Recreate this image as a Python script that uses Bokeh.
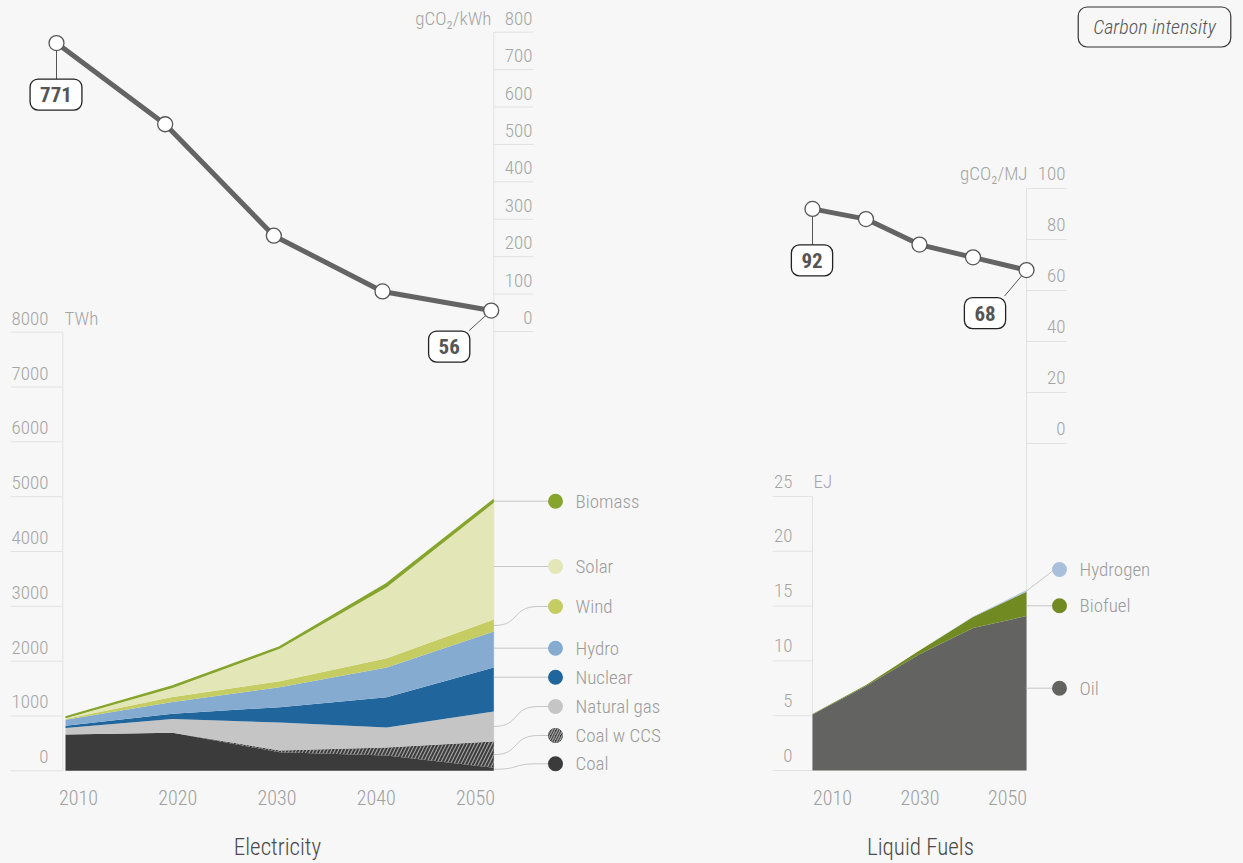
import numpy as np
from bokeh.plotting import figure
from bokeh.models import Range1d, Label
from bokeh.core.properties import value
from bokeh.embed import file_html
from bokeh.resources import INLINE

# ---------------- data ----------------
years = [2010, 2020, 2030, 2040, 2050]
elec_intensity = [771, 554, 256, 107, 56]      # gCO2/kWh
fuel_intensity = [92, 88, 78, 73, 68]          # gCO2/MJ

elec_names = ["Coal", "Coal w CCS", "Natural gas", "Nuclear", "Hydro", "Wind", "Solar", "Biomass"]
coal = [662, 693, 340, 280, 55]
coal_ccs = [0, 0, 30, 146, 480]
natural_gas = [120, 250, 511, 364, 547]
nuclear = [40, 98, 280, 553, 802]
hydro = [108, 212, 365, 541, 657]
wind = [15, 91, 109, 171, 219]
solar = [14, 165, 590, 1295, 2128]
biomass = [20, 36, 30, 60, 54]

fuel_names = ["Oil", "Biofuel", "Hydrogen"]
oil = [5.1, 7.7, 10.6, 13.0, 14.1]
biofuel = [0.05, 0.1, 0.35, 1.0, 2.2]
hydrogen = [0, 0, 0, 0.05, 0.15]

elec_ticks = [0, 1000, 2000, 3000, 4000, 5000, 6000, 7000, 8000]
elec_ci_ticks = [0, 100, 200, 300, 400, 500, 600, 700, 800]
fuel_ticks = [0, 5, 10, 15, 20, 25]
fuel_ci_ticks = [0, 20, 40, 60, 80, 100]
elec_year_labels = [2010, 2020, 2030, 2040, 2050]
fuel_year_labels = [2010, 2030, 2050]

# ---------------- styles ----------------
BG = "#f7f7f7"
FONT = "Roboto Condensed, Roboto, sans-serif"
FONT_L = "Roboto Condensed Light, Roboto Condensed, Roboto, sans-serif"
TICK_C = "#a5a5a5"
GRID_C = "#e2e2e2"
CONN_C = "#c6c6c6"
elec_colors = ["#3b3b3b", "#3b3b3b", "#c5c5c5", "#20669c", "#85abd0", "#c4cc62", "#e3e6b7", "#86a52d"]
fuel_colors = ["#636361", "#718a22", "#a9c0dc"]

W, H, M = 1243, 863, 0

p = figure(width=W, height=H, x_range=Range1d(M, M + W), y_range=Range1d(M + H, M),
           x_axis_type=None, y_axis_type=None, toolbar_location=None,
           output_backend="svg", min_border=0, outline_line_color=None,
           background_fill_color=BG, border_fill_color=BG)


def x_map(v0, p0, v1, p1):
    s = (p1 - p0) / (v1 - v0)
    start = v0 - (p0 - M) / s
    return Range1d(start, start + W / s), (lambda v: p0 + (np.asarray(v, float) - v0) * s)


def y_map(v0, p0, v1, p1):
    s = (p0 - p1) / (v1 - v0)
    start = v0 - (M + H - p0) / s
    return Range1d(start, start + H / s), (lambda v: p0 - (np.asarray(v, float) - v0) * s)


ex_r, ex = x_map(2010, 65, 2050, 493.3)
ey_r, ey = y_map(0, 770.3, 8000, 331.7)
et_r, et = x_map(2010, 56, 2050, 490.7)
ec_r, ec = y_map(0, 331, 800, 31.7)
fx_r, fx = x_map(2010, 812, 2050, 1026)
fy_r, fy = y_map(0, 770, 25, 496)
fc_r, fc = y_map(0, 443, 100, 188)
exl = x_map(2010, 78, 2050, 475)[1]
fxl = x_map(2010, 832, 2050, 1007)[1]

p.extra_x_ranges = {"ex": ex_r, "et": et_r, "fx": fx_r}
p.extra_y_ranges = {"ey": ey_r, "ec": ec_r, "fy": fy_r, "fc": fc_r}


def txt(xs, ys, texts, size="19px", color=TICK_C, align="left", style="normal", font=FONT_L):
    p.text(x=list(np.atleast_1d(xs)), y=list(np.atleast_1d(ys)), text=list(texts),
           text_font=value(font), text_font_size=size, text_color=color,
           text_align=align, text_baseline="middle", text_font_style=style)


# ---------------- axis lines & tick marks ----------------
xl_e = float(ex(2010)) - 2.7
p.segment(x0=[xl_e, float(ex(2050)), float(fx(2010)), float(fx(2050))],
          y0=[float(ey(8000)), float(ec(800)), float(fy(25)), float(fc(100))],
          x1=[xl_e, float(ex(2050)), float(fx(2010)), float(fx(2050))],
          y1=[float(ey(0)), float(ey(0)), float(fy(0)), float(fy(0))],
          line_color=GRID_C, line_width=1)

for ticks, fy_map, xa, xb, lab_x, off in [
        (elec_ticks, ey, 10, xl_e, 48, 14),
        (elec_ci_ticks, ec, float(ex(2050)), 533, 532, 14),
        (fuel_ticks, fy, 772, float(fx(2010)), 792, 15.5),
        (fuel_ci_ticks, fc, float(fx(2050)), 1066, 1065, 15.5)]:
    ys = fy_map(ticks)
    p.segment(x0=[xa] * len(ticks), x1=[xb] * len(ticks), y0=list(ys), y1=list(ys),
              line_color=GRID_C, line_width=1)
    txt([lab_x] * len(ticks), list(ys - off), [str(t) for t in ticks], align="right")

txt([64], [float(ey(8000)) - 14], ["TWh"])
txt([491], [float(ec(800)) - 14], ["gCO\u2082/kWh"], align="right")
txt([813], [float(fy(25)) - 15.5], ["EJ"])
txt([1027], [float(fc(100)) - 15.5], ["gCO\u2082/MJ"], align="right")

# ---------------- stacked areas ----------------
elec_vals = [coal, coal_ccs, natural_gas, nuclear, hydro, wind, solar, biomass]
bottom = np.zeros(len(years))
elec_bands = []
for name, vals, col in zip(elec_names, elec_vals, elec_colors):
    top = bottom + np.array(vals, float)
    kw = {}
    if name == "Coal w CCS":
        kw = dict(hatch_pattern="/", hatch_color="#a0a0a0", hatch_weight=1.2, hatch_scale=7)
    p.varea(x=years, y1=list(bottom), y2=list(top), fill_color=col,
            x_range_name="ex", y_range_name="ey", **kw)
    elec_bands.append((bottom[-1], top[-1]))
    bottom = top
p.line(years, list(bottom), line_color=elec_colors[-1], line_width=2,
       x_range_name="ex", y_range_name="ey")

fuel_vals = [oil, biofuel, hydrogen]
bottom = np.zeros(len(years))
fuel_bands = []
for name, vals, col in zip(fuel_names, fuel_vals, fuel_colors):
    top = bottom + np.array(vals, float)
    p.varea(x=years, y1=list(bottom), y2=list(top), fill_color=col,
            x_range_name="fx", y_range_name="fy")
    fuel_bands.append((bottom[-1], top[-1]))
    bottom = top

# ---------------- legends ----------------
elec_leg_y = [763.3, 735, 706, 676.7, 647.7, 606, 566, 500.7]
fuel_leg_y = [687.7, 605.3, 569]


def legend(names, colors, bands, leg_y, ymap, x_edge, dot_x, curved):
    for i, (name, col, (b, t), dy) in enumerate(zip(names, colors, bands, leg_y)):
        yb, yt = float(ymap(b)), float(ymap(t))
        if min(yb, yt) - 0.5 <= dy <= max(yb, yt) + 0.5:
            p.segment(x0=[x_edge], y0=[dy], x1=[dot_x], y1=[dy], line_color=CONN_C, line_width=1)
        else:
            mid = (yb + yt) / 2
            if curved:
                p.bezier(x0=[x_edge], y0=[mid], x1=[x_edge + 45], y1=[dy],
                         cx0=[x_edge + 27], cy0=[mid], cx1=[x_edge + 17], cy1=[dy],
                         line_color=CONN_C, line_width=1)
                p.segment(x0=[x_edge + 45], y0=[dy], x1=[dot_x], y1=[dy], line_color=CONN_C, line_width=1)
            else:
                p.segment(x0=[x_edge], y0=[mid], x1=[dot_x - 5], y1=[dy], line_color=CONN_C, line_width=1)
        kw = {}
        if name == "Coal w CCS":
            kw = dict(hatch_pattern="/", hatch_color="#a0a0a0", hatch_weight=1.3, hatch_scale=5)
        p.scatter(x=[dot_x], y=[dy], size=15, marker="circle", fill_color=col, line_color=None, **kw)
        txt([dot_x + 20], [dy], [name], color="#9b9b9b")


legend(elec_names, elec_colors, elec_bands, elec_leg_y, ey, float(ex(2050)), 555, True)
legend(fuel_names, fuel_colors, fuel_bands, fuel_leg_y, fy, float(fx(2050)), 1059, False)

# ---------------- carbon intensity lines ----------------
for xs_name, ys_name, xmap, ymap, vals in [("et", "ec", et, ec, elec_intensity),
                                           ("fx", "fc", fx, fc, fuel_intensity)]:
    x0, y0 = float(xmap(years[0])), float(ymap(vals[0]))
    x1, y1 = float(xmap(years[-1])), float(ymap(vals[-1]))
    p.segment(x0=[x0, x1], y0=[y0, y1], x1=[x0, x1 - 22], y1=[y0 + 36, y1 + (26 if xs_name == "fx" else 20)],
              line_color="#555555", line_width=1)
    p.line(years, vals, x_range_name=xs_name, y_range_name=ys_name, line_color="#646464", line_width=5)
    p.scatter(years, vals, x_range_name=xs_name, y_range_name=ys_name, size=15, marker="circle",
              fill_color="white", line_color="#555555", line_width=1.3)
    first_dy = 51.5
    last_dx, last_dy = (-42, 36) if xs_name == "et" else (-41.5, 43)
    for (lx, ly, v) in [(x0 - 0.5, y0 + first_dy, vals[0]), (x1 + last_dx, y1 + last_dy, vals[-1])]:
        p.add_layout(Label(x=lx, y=ly, text=str(v), text_font=FONT, text_font_size="21px",
                           text_font_style="bold", text_color="#555555", text_align="center",
                           text_baseline="middle", background_fill_color="white",
                           border_line_color="#222222", border_line_width=1.3,
                           border_radius=8, padding=(10, 8)))

# ---------------- titles ----------------
txt(list(exl(elec_year_labels)), [797] * len(elec_year_labels), [str(y) for y in elec_year_labels],
    size="20px", color="#a0a0a0", align="center")
txt(list(fxl(fuel_year_labels)), [797] * len(fuel_year_labels), [str(y) for y in fuel_year_labels],
    size="20px", color="#a0a0a0", align="center")
txt([277], [847], ["Electricity"], size="23px", color="#4a4a4a", align="center")
txt([920], [847], ["Liquid Fuels"], size="23px", color="#4a4a4a", align="center")

p.add_layout(Label(x=1154, y=26.5, text="Carbon intensity", text_font=FONT_L, text_font_size="20px",
                   text_font_style="italic", text_color="#555555", text_align="center",
                   text_baseline="middle", background_fill_color=BG,
                   border_line_color="#333333", border_line_width=1.2,
                   border_radius=9, padding=(15, 8)))

html = file_html(p, INLINE)
html = html.replace("</head>", "<style>html,body{background:#f7f7f7;}</style></head>", 1)
open("out.html", "w").write(html)
